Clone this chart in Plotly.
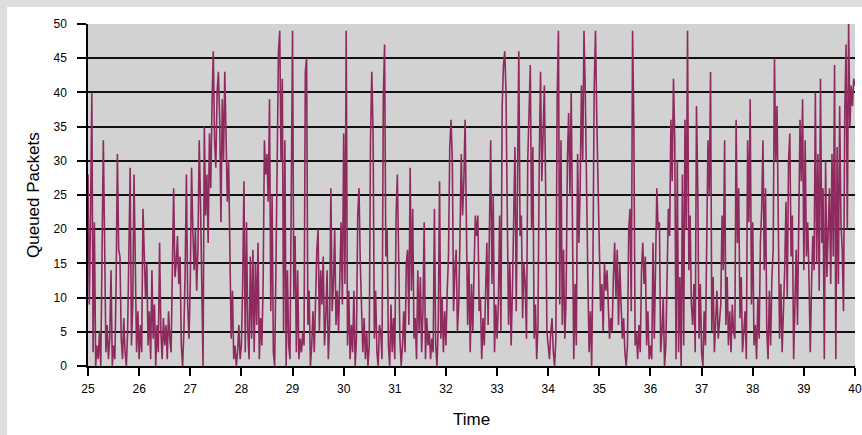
import numpy as np
import plotly.graph_objects as go

# Queued packets sampled every 0.025 time units, one list per unit of time
q25 = [28, 9, 22, 40, 2, 21, 0, 3, 1, 5, 0, 23, 33, 18, 2, 6, 1, 4, 14, 0,
       3, 1, 12, 31, 17, 16, 4, 1, 7, 2, 0, 5, 20, 29, 3, 9, 28, 12, 2, 8]
q26 = [1, 6, 2, 23, 17, 10, 15, 3, 8, 1, 14, 4, 9, 0, 6, 2, 18, 5, 1, 7,
       3, 6, 1, 8, 4, 2, 14, 26, 13, 15, 19, 12, 16, 3, 0, 5, 14, 28, 9, 4]
q27 = [12, 29, 20, 14, 20, 11, 17, 33, 24, 13, 0, 35, 22, 28, 18, 34, 26, 38, 46, 33,
       29, 40, 43, 36, 21, 39, 30, 43, 31, 24, 30, 15, 4, 11, 1, 3, 0, 2, 6, 1]
q28 = [3, 12, 27, 2, 21, 5, 1, 16, 4, 17, 2, 15, 6, 18, 1, 7, 3, 12, 33, 28,
       31, 24, 39, 8, 25, 2, 0, 14, 36, 46, 49, 30, 42, 5, 33, 0, 14, 3, 1, 20]
q29 = [49, 10, 19, 2, 14, 1, 4, 2, 5, 3, 43, 45, 6, 11, 0, 3, 8, 2, 12, 17,
       20, 5, 14, 9, 16, 3, 7, 14, 1, 6, 26, 8, 12, 20, 6, 11, 5, 13, 21, 9]
q30 = [34, 12, 49, 3, 11, 1, 6, 2, 11, 0, 4, 22, 26, 15, 9, 2, 7, 1, 5, 0,
       3, 33, 43, 34, 4, 11, 2, 0, 6, 5, 1, 39, 47, 16, 20, 3, 0, 9, 2, 7]
q31 = [1, 22, 28, 18, 4, 0, 3, 8, 2, 15, 17, 6, 29, 11, 23, 4, 7, 1, 14, 5,
       13, 2, 8, 21, 1, 7, 3, 5, 1, 4, 2, 23, 3, 0, 6, 27, 4, 10, 2, 8]
q32 = [3, 11, 16, 32, 36, 30, 8, 14, 17, 5, 9, 19, 31, 22, 27, 36, 15, 6, 15, 2,
       12, 5, 14, 22, 19, 22, 8, 10, 1, 7, 3, 11, 18, 6, 24, 33, 12, 25, 2, 9]
q33 = [4, 9, 22, 5, 38, 44, 46, 40, 22, 6, 15, 3, 11, 21, 32, 8, 27, 46, 19, 22,
       7, 15, 12, 4, 30, 37, 44, 20, 32, 4, 9, 1, 6, 30, 43, 27, 33, 41, 26, 5]
q34 = [3, 1, 5, 7, 2, 0, 4, 39, 49, 9, 33, 6, 17, 4, 10, 30, 37, 25, 40, 22,
       1, 12, 3, 31, 18, 26, 41, 30, 49, 40, 22, 13, 2, 8, 0, 15, 41, 49, 36, 26]
q35 = [20, 8, 12, 5, 15, 11, 14, 10, 4, 7, 5, 13, 18, 10, 17, 6, 15, 9, 4, 7,
       2, 0, 3, 20, 23, 8, 49, 35, 3, 5, 1, 6, 2, 14, 18, 12, 16, 3, 8, 1]
q36 = [3, 1, 18, 4, 15, 26, 20, 21, 2, 5, 10, 0, 3, 16, 23, 19, 36, 27, 42, 33,
       1, 30, 2, 13, 0, 28, 3, 36, 20, 49, 14, 22, 9, 6, 12, 2, 38, 26, 4, 12]
q37 = [2, 0, 8, 3, 17, 33, 25, 43, 5, 13, 2, 7, 11, 4, 6, 9, 22, 14, 33, 6,
       13, 3, 8, 2, 9, 5, 4, 36, 18, 26, 7, 13, 2, 5, 8, 1, 33, 21, 39, 9]
q38 = [21, 3, 6, 1, 10, 4, 18, 23, 33, 14, 26, 5, 1, 11, 3, 13, 17, 45, 30, 38,
       17, 4, 12, 2, 8, 14, 24, 10, 30, 34, 16, 22, 1, 12, 17, 6, 20, 36, 27, 39]
q39 = [14, 33, 16, 21, 13, 2, 12, 19, 14, 40, 15, 31, 11, 42, 18, 26, 1, 30, 13, 22,
       26, 12, 31, 16, 44, 1, 32, 12, 38, 21, 17, 8, 37, 47, 20, 50, 35, 41, 38, 42]
q40 = [41]

t_start = 25.0
t_step = 0.025
x_ticks = list(range(25, 41))
y_ticks = list(range(0, 51, 5))

queued = q25 + q26 + q27 + q28 + q29 + q30 + q31 + q32 + q33 + q34 + q35 + q36 + q37 + q38 + q39 + q40
time = t_start + t_step * np.arange(len(queued))

fig = go.Figure()
fig.add_trace(go.Scatter(
    x=time, y=queued, mode="lines",
    line=dict(color="#8e2a5e", width=1.6),
    showlegend=False, hoverinfo="skip",
))

font_family = "Liberation Sans, Arial, sans-serif"

fig.update_layout(
    width=862, height=435,
    margin=dict(l=88, r=7, t=24, b=69, autoexpand=False),
    paper_bgcolor="white",
    plot_bgcolor="#d2d2d2",
    font=dict(family=font_family, size=12, color="black"),
    shapes=[
        dict(type="rect", xref="paper", yref="paper", layer="below",
             x0=-0.1148, x1=-0.1056, y0=-0.21, y1=1.08,
             fillcolor="#dedede", line=dict(width=0)),
        dict(type="rect", xref="paper", yref="paper", layer="below",
             x0=-0.1148, x1=1.02, y0=1.0497, y1=1.08,
             fillcolor="#dedede", line=dict(width=0)),
    ],
    annotations=[
        dict(text="Queued Packets", xref="paper", yref="paper",
             x=-0.0717, y=0.5, xanchor="center", yanchor="middle",
             textangle=-90, showarrow=False,
             font=dict(size=17, color="black")),
        dict(text="Time", xref="paper", yref="paper",
             x=0.5, y=-0.155, xanchor="center", yanchor="middle",
             showarrow=False, font=dict(size=17, color="black")),
    ],
)

fig.update_xaxes(
    range=[25, 40], tickmode="array", tickvals=x_ticks,
    ticktext=[str(v) for v in x_ticks],
    automargin=False, ticklabeloverflow="allow",
    showgrid=False, zeroline=False,
    showline=True, linecolor="black", linewidth=1.5,
    ticks="outside", ticklen=8, tickwidth=1.5, tickcolor="black",
    ticklabelstandoff=3,
    tickfont=dict(size=12, color="black"),
)
fig.update_yaxes(
    range=[0, 50], tickmode="array", tickvals=y_ticks,
    ticktext=[str(v) for v in y_ticks],
    automargin=False, ticklabeloverflow="allow",
    showgrid=True, gridcolor="#111111", gridwidth=1.5,
    zeroline=False,
    showline=True, linecolor="black", linewidth=1.5,
    ticks="outside", ticklen=9, tickwidth=1.5, tickcolor="black",
    ticklabelstandoff=8,
    tickfont=dict(size=12, color="black"),
)

fig.write_html("out.html", config={"displayModeBar": False},
               post_script="document.body.style.margin='0';")
